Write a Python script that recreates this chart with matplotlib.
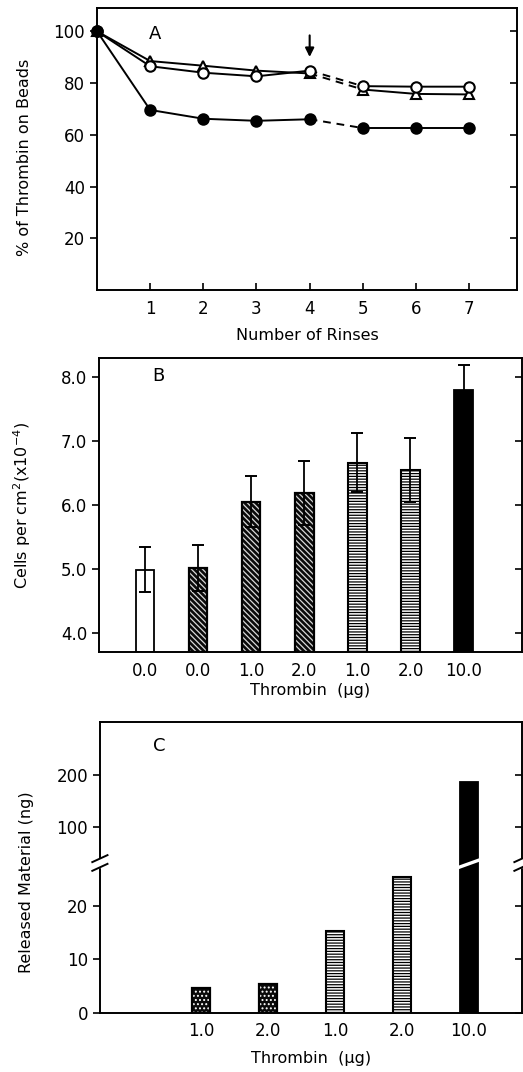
import numpy as np
import matplotlib
matplotlib.use("Agg")
import matplotlib.pyplot as plt
from matplotlib.scale import FuncScale

# Panel A: % of thrombin on beads vs number of rinses
rinses = [0, 1, 2, 3, 4, 5, 6, 7]
triangle = [100, 88.5, 86.7, 84.8, 83.7, 77.5, 75.8, 75.6]
open_circle = [100, 86.5, 84.0, 82.6, 84.8, 78.8, 78.6, 78.6]
filled = [100, 69.6, 66.2, 65.4, 66.0, 62.6, 62.6, 62.6]

# Panel B: cells per cm2
b_labels = ["0.0", "0.0", "1.0", "2.0", "1.0", "2.0", "10.0"]
b_values = [4.99, 5.02, 6.05, 6.19, 6.66, 6.54, 7.80]
b_errors = [0.35, 0.36, 0.40, 0.50, 0.46, 0.50, 0.39]
b_styles = ["open", "cross", "cross", "cross", "lines", "lines", "solid"]

# Panel C: released material (ng)
c_labels = ["1.0", "2.0", "1.0", "2.0", "10.0"]
c_values = [4.6, 5.3, 15.4, 25.4, 186]
c_styles = ["dots", "dots", "lines", "lines", "solid"]

plt.rcParams["font.family"] = ["DejaVu Sans"]
plt.rcParams["hatch.linewidth"] = 0.9

fig = plt.figure(figsize=(5.23, 10.72), dpi=100)
TICK_FS = 12
LAB_FS = 11.5


def style_axes(ax):
    for s in ax.spines.values():
        s.set_linewidth(1.4)
    ax.tick_params(axis="y", which="both", direction="out", length=5, width=1.2,
                   labelsize=TICK_FS, right=True)
    ax.tick_params(axis="x", direction="in", length=5, width=1.2, labelsize=TICK_FS, pad=7)


def right_ticks_inward(ax):
    for t in ax.yaxis.get_major_ticks():
        t.tick2line.set_marker(matplotlib.lines.TICKLEFT)


# ---------------- A ----------------
axA = fig.add_axes([0.1855, 0.7295, 0.803, 0.263])
style_axes(axA)
lw = 1.4
for ys, mk, fc in [(triangle, "^", "white"), (open_circle, "o", "white"), (filled, "o", "black")]:
    x = np.array(rinses)
    y = np.array(ys)
    axA.plot(x[:5], y[:5], "-", color="black", lw=lw, zorder=2)
    axA.plot(x[4:6], y[4:6], "--", color="black", lw=lw, dashes=(4, 3), zorder=2)
    axA.plot(x[5:], y[5:], "-", color="black", lw=lw, zorder=2)
    axA.plot(x, y, linestyle="none", marker=mk, markersize=7.5, mfc=fc, mec="black",
             mew=1.5, zorder=3, clip_on=False)
axA.set_xlim(0, 7.9)
axA.set_ylim(0, 109)
axA.set_xticks([1, 2, 3, 4, 5, 6, 7])
axA.set_yticks([20, 40, 60, 80, 100])
axA.set_xlabel("Number of Rinses", fontsize=LAB_FS)
axA.xaxis.set_label_coords(0.5, -0.135)
axA.set_ylabel("% of Thrombin on Beads", fontsize=LAB_FS)
axA.yaxis.set_label_coords(-0.155, 0.47)
axA.text(1.1, 99, "A", fontsize=13, ha="center", va="center")
axA.annotate("", xy=(4, 89.0), xytext=(4, 99.5),
             arrowprops=dict(arrowstyle="-|>", color="black", lw=1.5, mutation_scale=13))
right_ticks_inward(axA)


def draw_bar(ax, xpos, val, style, width, bottom=0):
    h = val - bottom
    if style == "open":
        ax.bar(xpos, h, width, bottom=bottom, facecolor="white", edgecolor="black", lw=1.3, zorder=2)
    elif style == "solid":
        ax.bar(xpos, h, width, bottom=bottom, facecolor="black", edgecolor="black", lw=1.3, zorder=2)
    elif style == "cross":
        ax.bar(xpos, h, width, bottom=bottom, facecolor="#0a0a0a", edgecolor="#d8d8d8",
               hatch="\\\\\\\\\\\\", lw=0, zorder=2)
        ax.bar(xpos, h, width, bottom=bottom, fill=False, edgecolor="black", lw=1.6, zorder=2)
    elif style == "dots":
        ax.bar(xpos, h, width, bottom=bottom, facecolor="#0a0a0a", edgecolor="white",
               hatch="....", lw=0, zorder=2)
        ax.bar(xpos, h, width, bottom=bottom, fill=False, edgecolor="black", lw=1.6, zorder=2)
    elif style == "lines":
        ax.bar(xpos, h, width, bottom=bottom, facecolor="white", edgecolor="black",
               hatch="------", lw=1.5, zorder=2)


# ---------------- B ----------------
axB = fig.add_axes([0.189, 0.3918, 0.809, 0.2743])
style_axes(axB)
xb = np.arange(len(b_values))
for i in range(len(b_values)):
    draw_bar(axB, xb[i], b_values[i], b_styles[i], 0.35, bottom=3.7)
axB.errorbar(xb, b_values, yerr=b_errors, fmt="none", ecolor="black", elinewidth=1.3,
             capsize=4, capthick=1.4, zorder=3)
axB.set_xlim(-0.87, 7.1)
axB.set_ylim(3.7, 8.3)
axB.set_xticks(xb)
axB.set_xticklabels(b_labels)
axB.tick_params(axis="x", length=0)
axB.set_yticks([4.0, 5.0, 6.0, 7.0, 8.0])
axB.set_yticklabels(["4.0", "5.0", "6.0", "7.0", "8.0"])
axB.set_xlabel("Thrombin  (\u03bcg)", fontsize=LAB_FS)
axB.xaxis.set_label_coords(0.5, -0.105)
axB.set_ylabel("Cells per cm$^2$(x10$^{-4}$)", fontsize=LAB_FS)
axB.yaxis.set_label_coords(-0.155, 0.5)
axB.text(0.25, 8.02, "B", fontsize=13, ha="center", va="center")
right_ticks_inward(axB)

# ---------------- C ----------------
brk = 27.9
k = 0.097


def fwd(v):
    v = np.asarray(v, dtype=float)
    return np.where(v <= brk, v, brk + (v - brk) * k)


def inv(u):
    u = np.asarray(u, dtype=float)
    return np.where(u <= brk, u, brk + (u - brk) / k)


axC = fig.add_axes([0.191, 0.0553, 0.807, 0.2712])
axC.set_yscale(FuncScale(axC.yaxis, (fwd, inv)))
style_axes(axC)
xc = np.arange(len(c_values))
for i in range(len(c_values)):
    draw_bar(axC, xc[i], c_values[i], c_styles[i], 0.27)
axC.set_xlim(-1.52, 4.8)
axC.set_ylim(0, 302)
axC.set_xticks(xc)
axC.set_xticklabels(c_labels)
axC.tick_params(axis="x", length=0)
axC.set_yticks([0, 10, 20, 100, 200])
axC.set_yticklabels(["0", "10", "20", "100", "200"])
axC.yaxis.set_minor_locator(matplotlib.ticker.NullLocator())
axC.set_xlabel("Thrombin  (\u03bcg)", fontsize=LAB_FS)
axC.xaxis.set_label_coords(0.5, -0.13)
axC.set_ylabel("Released Material (ng)", fontsize=LAB_FS)
axC.yaxis.set_label_coords(-0.155, 0.45)
axC.text(-0.63, 255, "C", fontsize=13, ha="center", va="center")
right_ticks_inward(axC)

# axis break marks
yb = fwd(brk) / fwd(302)
tr = axC.transAxes
axC.plot([0, 0], [yb - 0.008, yb + 0.014], color="white", lw=2.5, transform=tr,
         clip_on=False, zorder=4)
axC.plot([1, 1], [yb - 0.008, yb + 0.014], color="white", lw=2.5, transform=tr,
         clip_on=False, zorder=4)
for dy in (-0.012, 0.018):
    for xs in (0.0, 1.0):
        axC.plot([xs - 0.018, xs + 0.018], [yb + dy - 0.012, yb + dy + 0.012], color="black",
                 lw=1.4, transform=tr, clip_on=False, zorder=5)
# white slash through the tall bar
bx = xc[-1]
axC.plot([bx - 0.2, bx + 0.2], [inv(brk - 0.9), inv(brk + 0.9)], color="white", lw=2.4,
         zorder=4)

fig.savefig("out.png", dpi=100)
